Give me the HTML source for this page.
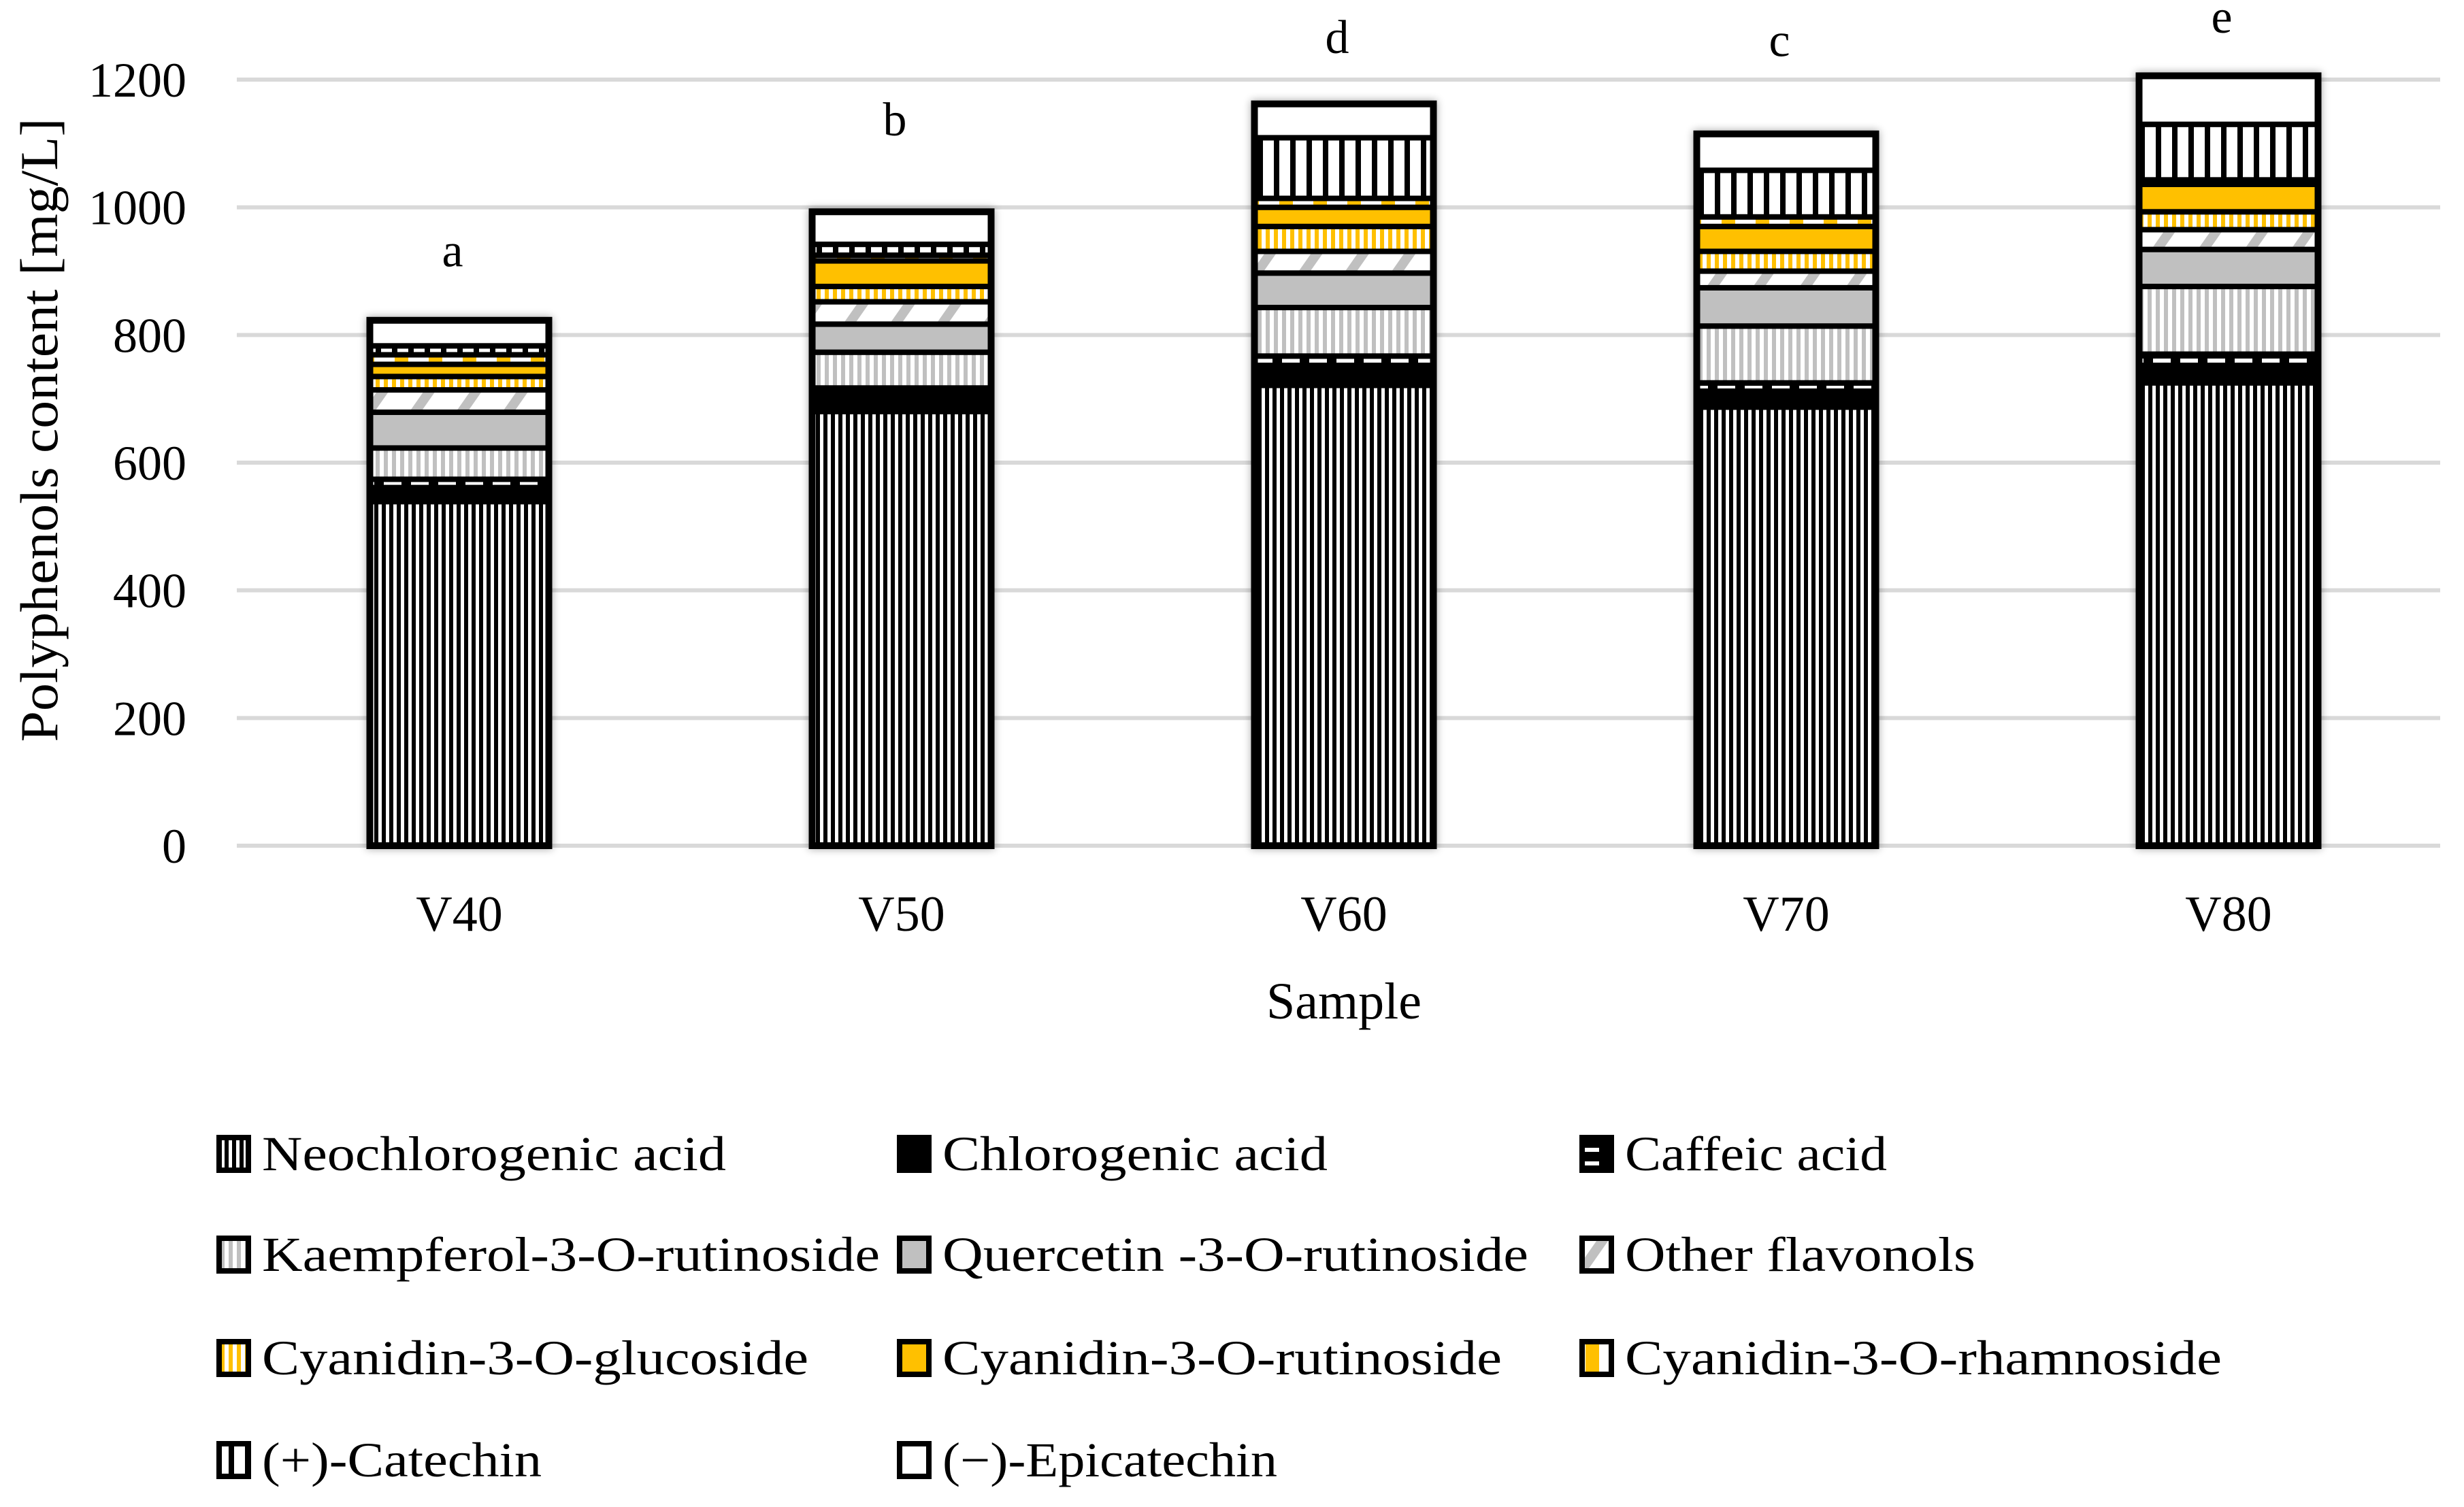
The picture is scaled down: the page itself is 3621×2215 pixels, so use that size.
<!DOCTYPE html>
<html><head><meta charset="utf-8"><style>
html,body{margin:0;padding:0;background:#fff;}
svg{display:block;font-family:"Liberation Serif",serif;}
</style></head><body>
<svg id="chart" width="3621" height="2215" viewBox="0 0 3621 2215" xmlns="http://www.w3.org/2000/svg">
<defs>
<pattern id="p-neo" patternUnits="userSpaceOnUse" width="11" height="20"><rect width="11" height="20" fill="#fff"/><rect width="6" height="20" fill="#000"/></pattern>
<pattern id="p-caf" patternUnits="userSpaceOnUse" width="40" height="20"><rect width="40" height="20" fill="#000"/><rect x="4" y="7" width="26" height="6" fill="#fff"/></pattern>
<pattern id="p-kae" patternUnits="userSpaceOnUse" width="12" height="20"><rect width="12" height="20" fill="#fff"/><rect width="6" height="20" fill="#c0c0c0"/></pattern>
<pattern id="p-oth" patternUnits="userSpaceOnUse" width="56" height="56" patternTransform="rotate(35)"><rect width="56" height="56" fill="#fff"/><rect width="14" height="56" fill="#c0c0c0"/></pattern>
<pattern id="p-glc" patternUnits="userSpaceOnUse" width="12" height="20"><rect width="12" height="20" fill="#fff"/><rect width="6" height="20" fill="#ffc000"/></pattern>
<pattern id="p-rham" patternUnits="userSpaceOnUse" width="50" height="20"><rect width="50" height="20" fill="#fff"/><rect x="30" width="20" height="20" fill="#ffc000"/></pattern>
<pattern id="p-cat" patternUnits="userSpaceOnUse" width="24" height="20"><rect width="24" height="20" fill="#fff"/><rect width="8" height="20" fill="#000"/></pattern>
<filter id="shadow" x="-20%" y="-5%" width="140%" height="110%"><feGaussianBlur in="SourceAlpha" stdDeviation="6"/><feComponentTransfer><feFuncA type="linear" slope="0.35"/></feComponentTransfer><feMerge><feMergeNode/><feMergeNode in="SourceGraphic"/></feMerge></filter>
</defs>
<g id="grid"></g>
<g id="bars"></g>
<g id="labels"></g>
<g id="legend"></g>
</svg>
<script>
const categories = ["V40","V50","V60","V70","V80"];
const letters = ["a","b","d","c","e"];
const seriesNames = ["Neochlorogenic acid","Chlorogenic acid","Caffeic acid","Kaempferol-3-O-rutinoside","Quercetin -3-O-rutinoside","Other flavonols","Cyanidin-3-O-glucoside","Cyanidin-3-O-rutinoside","Cyanidin-3-O-rhamnoside","(+)-Catechin","(\u2212)-Epicatechin"];
const neochlorogenic = [539,680,721,687,725];
const chlorogenic = [22,21,27,25,27];
const caffeic = [13,16,19,13,18];
const kaempferol = [49,56,76,89,106];
const quercetin = [56,44,54,60,58];
const otherFlavonols = [35,35,34,26,31];
const cyanidinGlc = [21,24,39,31,28];
const cyanidinRut = [19,40,30,39,43];
const cyanidinRham = [15,9,14,15,7];
const catechin = [14,17,95,73,87];
const epicatechin = [40,51,53,57,76];
const yTicks = [0,200,400,600,800,1000,1200];
const letterValues = [929,1134,1263,1258,1295];

const series = [neochlorogenic,chlorogenic,caffeic,kaempferol,quercetin,otherFlavonols,cyanidinGlc,cyanidinRut,cyanidinRham,catechin,epicatechin];
const fills = ["url(#p-neo)","#000","url(#p-caf)","url(#p-kae)","#c0c0c0","url(#p-oth)","url(#p-glc)","#ffc000","url(#p-rham)","url(#p-cat)","#fff"];
const keys = ["neochlorogenic","chlorogenic","caffeic","kaempferol","quercetin","other-flavonols","cyanidin-glc","cyanidin-rut","cyanidin-rham","catechin","epicatechin"];
const NS = "http://www.w3.org/2000/svg";
const X0 = 348, X1 = 3586, Y0 = 1243, PX = 0.9383;
const y = v => Y0 - v * PX;
const xc = i => 675 + i * 650;
const BW = 263;
function mk(tag, attrs, parent, text){const e=document.createElementNS(NS,tag);for(const k in attrs)e.setAttribute(k,attrs[k]);if(text!==undefined)e.textContent=text;parent.appendChild(e);return e;}
const grid=document.getElementById('grid'),bars=document.getElementById('bars'),labels=document.getElementById('labels'),legend=document.getElementById('legend');
yTicks.forEach(t=>{
  const l=mk('line',{x1:X0,x2:X1,y1:y(t),y2:y(t),stroke:'#d9d9d9','stroke-width':6},grid);
  
  
  const tx=mk('text',{x:274,y:y(t)+25,'text-anchor':'end','font-size':72,fill:'#000'},labels,String(t));
  
  
});
categories.forEach((c,i)=>{
  const g=mk('g',{filter:'url(#shadow)'},bars);
  
  
  let base=0;
  series.forEach((s,k)=>{
    const v=s[i];
    const r=mk('rect',{x:xc(i)-BW/2,y:y(base+v),width:BW,height:v*PX,fill:fills[k],stroke:'#000','stroke-width':8},g);
    
    
    base+=v;
  });
  const outline=mk('rect',{x:xc(i)-BW/2,y:y(base),width:BW,height:base*PX,fill:'none',stroke:'#000','stroke-width':10},g);
  
  
  const xl=mk('text',{x:xc(i),y:1368,'text-anchor':'middle','font-size':74},labels,c);
  
  
  const lt=mk('text',{x:xc(i)-10,y:y(letterValues[i])+20,'text-anchor':'middle','font-size':70},labels,letters[i]);
  
  
});
const yt=mk('text',{x:0,y:0,'text-anchor':'middle','font-size':78,textLength:917,lengthAdjust:'spacingAndGlyphs',transform:'translate(84,632) rotate(-90)'},labels,'Polyphenols content [mg/L]');


const xt=mk('text',{x:1975,y:1497,'text-anchor':'middle','font-size':76},labels,'Sample');


const colX=[318,1318,2321], rowY=[1720,1868,2020,2170];
const widths=[682,566,385,908,861,515,803,822,877,411,492];
seriesNames.forEach((n,k)=>{
  const cx=colX[k%3], ry=rowY[Math.floor(k/3)];
  const g=mk('g',{},legend);
  
  
  const sw=mk('rect',{x:cx+4,y:ry-48,width:43,height:48,fill:fills[k],stroke:'#000','stroke-width':8},g);
  
  
  const t=mk('text',{x:cx+67,y:ry,'font-size':72,textLength:widths[k],lengthAdjust:'spacingAndGlyphs'},g,n);
  
  
});
</script>
</body></html>
